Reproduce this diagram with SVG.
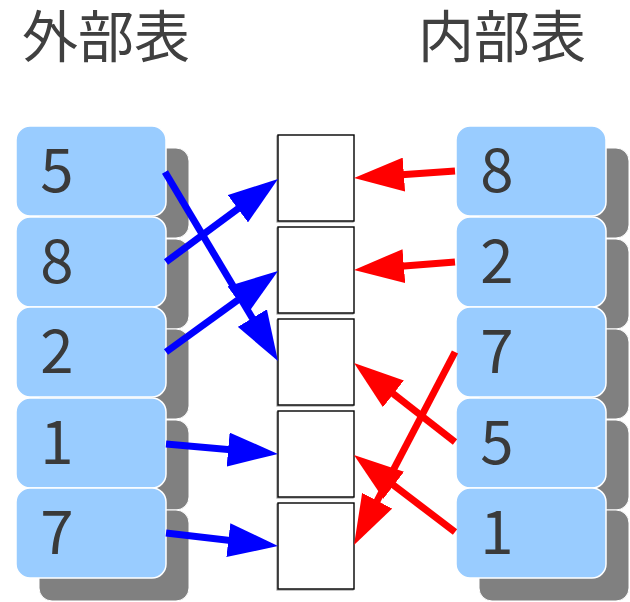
<svg xmlns="http://www.w3.org/2000/svg" width="630" height="602" viewBox="0 0 630 602">
<style>
.title{font-family:"Noto Sans CJK JP","Noto Sans",sans-serif;font-size:56px;fill:#404040}
.num{font-family:"Noto Sans CJK JP","Noto Sans",sans-serif;font-size:60px;fill:#3a3a3a;text-anchor:middle}
.shadow{fill:#808080;stroke:#ffffff;stroke-width:1}
.box{fill:#99ccff;stroke:#ffffff;stroke-width:1.5}
.slot{fill:#ffffff;stroke:#000000;stroke-width:1.4}
.slotsh{fill:none;stroke:#999999;stroke-width:1.2}
.blue{stroke:#0000ff;stroke-width:7;fill:none}
.red{stroke:#ff0000;stroke-width:7;fill:none}
</style>
<defs>
<marker id="hb" markerUnits="userSpaceOnUse" markerWidth="50" markerHeight="34" refX="38" refY="17" orient="auto"><path d="M0,0 L50,17 L0,34 z" fill="#0000ff"/></marker>
<marker id="hr" markerUnits="userSpaceOnUse" markerWidth="50" markerHeight="34" refX="38" refY="17" orient="auto"><path d="M0,0 L50,17 L0,34 z" fill="#ff0000"/></marker>
</defs>
<rect width="630" height="602" fill="#ffffff"/>
<text class="title" x="22" y="57">外部表</text>
<text class="title" x="418" y="57">内部表</text>
<g id="shadows">
<rect class="shadow" x="39" y="148" width="150" height="90" rx="13"/>
<rect class="shadow" x="39" y="239" width="150" height="90" rx="13"/>
<rect class="shadow" x="39" y="329" width="150" height="90" rx="13"/>
<rect class="shadow" x="39" y="420" width="150" height="90" rx="13"/>
<rect class="shadow" x="39" y="510" width="150" height="91" rx="13"/>
<rect class="shadow" x="479" y="148" width="150" height="90" rx="13"/>
<rect class="shadow" x="479" y="239" width="150" height="90" rx="13"/>
<rect class="shadow" x="479" y="329" width="150" height="90" rx="13"/>
<rect class="shadow" x="479" y="420" width="150" height="90" rx="13"/>
<rect class="shadow" x="479" y="510" width="150" height="91" rx="13"/>
</g>
<g id="outer5"><rect class="box" x="16" y="126" width="150" height="90" rx="14"/><text class="num" x="57" y="192">5</text></g>
<g id="outer8"><rect class="box" x="16" y="217" width="150" height="90" rx="14"/><text class="num" x="57" y="283">8</text></g>
<g id="outer2"><rect class="box" x="16" y="307" width="150" height="90" rx="14"/><text class="num" x="57" y="373">2</text></g>
<g id="outer1"><rect class="box" x="16" y="398" width="150" height="90" rx="14"/><text class="num" x="57" y="464">1</text></g>
<g id="outer7"><rect class="box" x="16" y="488" width="150" height="90" rx="14"/><text class="num" x="57" y="554">7</text></g>
<g id="inner8"><rect class="box" x="456" y="126" width="150" height="90" rx="14"/><text class="num" x="497" y="192">8</text></g>
<g id="inner2"><rect class="box" x="456" y="217" width="150" height="90" rx="14"/><text class="num" x="497" y="283">2</text></g>
<g id="inner7"><rect class="box" x="456" y="307" width="150" height="90" rx="14"/><text class="num" x="497" y="373">7</text></g>
<g id="inner5"><rect class="box" x="456" y="398" width="150" height="90" rx="14"/><text class="num" x="497" y="464">5</text></g>
<g id="inner1"><rect class="box" x="456" y="488" width="150" height="90" rx="14"/><text class="num" x="497" y="554">1</text></g>
<g id="slot1"><rect class="slotsh" x="277" y="136" width="76" height="86"/><rect class="slot" x="278" y="135" width="76" height="86"/></g>
<g id="slot2"><rect class="slotsh" x="277" y="228" width="76" height="86"/><rect class="slot" x="278" y="227" width="76" height="86"/></g>
<g id="slot3"><rect class="slotsh" x="277" y="320" width="76" height="86"/><rect class="slot" x="278" y="319" width="76" height="86"/></g>
<g id="slot4"><rect class="slotsh" x="277" y="412" width="76" height="86"/><rect class="slot" x="278" y="411" width="76" height="86"/></g>
<g id="slot5"><rect class="slotsh" x="277" y="504" width="76" height="86"/><rect class="slot" x="278" y="503" width="76" height="86"/></g>
<g id="connectors">
<line class="blue" x1="165" y1="172" x2="271.8" y2="350.7" marker-end="url(#hb)"/>
<line class="blue" x1="166" y1="262" x2="268.4" y2="186.1" marker-end="url(#hb)"/>
<line class="blue" x1="166" y1="352" x2="268.3" y2="278.0" marker-end="url(#hb)"/>
<line class="blue" x1="166" y1="444" x2="266.0" y2="452.9" marker-end="url(#hb)"/>
<line class="blue" x1="166" y1="533" x2="266.1" y2="544.6" marker-end="url(#hb)"/>
<line class="red" x1="455" y1="171" x2="366.0" y2="177.2" marker-end="url(#hr)"/>
<line class="red" x1="455" y1="262" x2="366.0" y2="269.1" marker-end="url(#hr)"/>
<line class="red" x1="455" y1="352" x2="359.6" y2="534.4" marker-end="url(#hr)"/>
<line class="red" x1="455" y1="442" x2="363.5" y2="370.4" marker-end="url(#hr)"/>
<line class="red" x1="455" y1="532" x2="363.5" y2="462.3" marker-end="url(#hr)"/>
</g>
</svg>
